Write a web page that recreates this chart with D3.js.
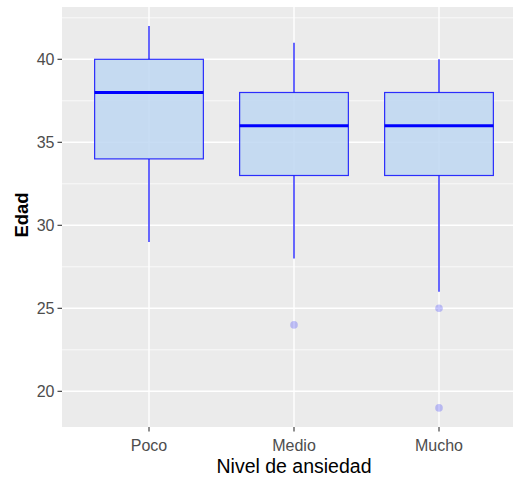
<!DOCTYPE html>
<meta charset="utf-8">
<script src="https://cdn.jsdelivr.net/npm/d3@7"></script>
<style>
  body { margin: 0; background: #fff; }
  svg { display: block; font-family: "Liberation Sans", Arial, sans-serif; }
</style>
<div id="dataviz"></div>
<script>
// data: summary of each box
var niveles = ["Poco", "Medio", "Mucho"];
var bigoteInf = [29, 28, 26];
var q1 = [34, 33, 33];
var mediana = [38, 36, 36];
var q3 = [40, 38, 38];
var bigoteSup = [42, 41, 40];
var atipicos = [[], [24], [25, 19]];
var yTicks = [20, 25, 30, 35, 40];
var yMinor = [17.5, 22.5, 27.5, 32.5, 37.5, 42.5];

var W = 513, H = 477;
var panel = { left: 62, top: 7, bottom: 427, right: 513 };

var svg = d3.select("#dataviz").append("svg")
    .attr("width", W)
    .attr("height", H);

var y = d3.scaleLinear().domain([17.85, 43.15]).range([panel.bottom, panel.top]);
// discrete axis, categories at 1..n, expanded by 0.6 each side
var x = d3.scaleLinear().domain([0.4, 3.6]).range([panel.left, panel.left + 3.2 * 145]);
var boxW = x(1.75) - x(1);

// panel background
svg.append("rect")
    .attr("x", panel.left).attr("y", panel.top)
    .attr("width", panel.right - panel.left)
    .attr("height", panel.bottom - panel.top)
    .attr("fill", "#ebebeb");

// grid
svg.selectAll(".minor").data(yMinor).enter().append("line")
    .attr("x1", panel.left).attr("x2", panel.right)
    .attr("y1", d => y(d)).attr("y2", d => y(d))
    .attr("stroke", "#fff").attr("stroke-width", 0.7);
svg.selectAll(".major").data(yTicks).enter().append("line")
    .attr("x1", panel.left).attr("x2", panel.right)
    .attr("y1", d => y(d)).attr("y2", d => y(d))
    .attr("stroke", "#fff").attr("stroke-width", 1.4);
svg.selectAll(".majorx").data(niveles).enter().append("line")
    .attr("x1", (d, i) => x(i + 1)).attr("x2", (d, i) => x(i + 1))
    .attr("y1", panel.top).attr("y2", panel.bottom)
    .attr("stroke", "#fff").attr("stroke-width", 1.4);

// boxes
var g = svg.selectAll(".box").data(niveles).enter().append("g");

g.append("line")
    .attr("x1", (d, i) => x(i + 1)).attr("x2", (d, i) => x(i + 1))
    .attr("y1", (d, i) => y(q3[i])).attr("y2", (d, i) => y(bigoteSup[i]))
    .attr("stroke", "blue").attr("stroke-opacity", 0.85).attr("stroke-width", 1.4);
g.append("line")
    .attr("x1", (d, i) => x(i + 1)).attr("x2", (d, i) => x(i + 1))
    .attr("y1", (d, i) => y(q1[i])).attr("y2", (d, i) => y(bigoteInf[i]))
    .attr("stroke", "blue").attr("stroke-opacity", 0.85).attr("stroke-width", 1.4);

g.append("rect")
    .attr("x", (d, i) => x(i + 1) - boxW / 2)
    .attr("width", boxW)
    .attr("y", (d, i) => y(q3[i]))
    .attr("height", (d, i) => y(q1[i]) - y(q3[i]))
    .attr("fill", "#bcd6f1").attr("fill-opacity", 0.82)
    .attr("stroke", "blue").attr("stroke-opacity", 0.8).attr("stroke-width", 1.2);

g.append("line")
    .attr("x1", (d, i) => x(i + 1) - boxW / 2).attr("x2", (d, i) => x(i + 1) + boxW / 2)
    .attr("y1", (d, i) => y(mediana[i])).attr("y2", (d, i) => y(mediana[i]))
    .attr("stroke", "blue").attr("stroke-width", 3);

// outliers
var pts = [];
atipicos.forEach((arr, i) => arr.forEach(v => pts.push({ i: i, v: v })));
svg.selectAll(".out").data(pts).enter().append("circle")
    .attr("cx", d => x(d.i + 1))
    .attr("cy", d => y(d.v))
    .attr("r", 3.8)
    .attr("fill", "blue").attr("fill-opacity", 0.22);

// axes ticks
svg.selectAll(".yt").data(yTicks).enter().append("line")
    .attr("x1", panel.left - 4.5).attr("x2", panel.left)
    .attr("y1", d => y(d)).attr("y2", d => y(d))
    .attr("stroke", "#333").attr("stroke-width", 1.1);
svg.selectAll(".ytl").data(yTicks).enter().append("text")
    .attr("x", panel.left - 7.5)
    .attr("y", d => y(d))
    .attr("dy", "0.36em")
    .attr("text-anchor", "end")
    .attr("fill", "#4d4d4d")
    .style("font-size", "16px")
    .text(d => d);

svg.selectAll(".xt").data(niveles).enter().append("line")
    .attr("x1", (d, i) => x(i + 1)).attr("x2", (d, i) => x(i + 1))
    .attr("y1", panel.bottom).attr("y2", panel.bottom + 4.5)
    .attr("stroke", "#333").attr("stroke-width", 1.1);
svg.selectAll(".xtl").data(niveles).enter().append("text")
    .attr("x", (d, i) => x(i + 1))
    .attr("y", panel.bottom + 24)
    .attr("text-anchor", "middle")
    .attr("fill", "#4d4d4d")
    .style("font-size", "16px")
    .text(d => d);

// titles
svg.append("text")
    .attr("x", (panel.left + 526) / 2)
    .attr("y", 473)
    .attr("text-anchor", "middle")
    .attr("fill", "#000")
    .style("font-size", "19.5px")
    .text("Nivel de ansiedad");

svg.append("text")
    .attr("transform", "translate(28," + 215 + ") rotate(-90)")
    .attr("text-anchor", "middle")
    .attr("fill", "#000")
    .style("font-size", "18.5px")
    .style("font-weight", "bold")
    .text("Edad");
</script>
